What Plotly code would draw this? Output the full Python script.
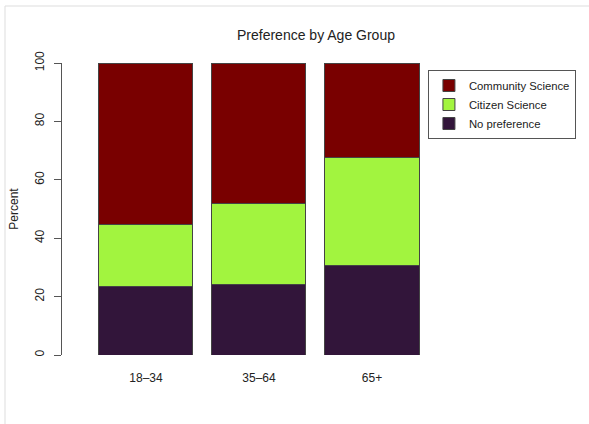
import plotly.graph_objects as go

age_groups = ["18–34", "35–64", "65+"]
no_preference = [23.4, 24.1, 30.7]
citizen_science = [21.2, 27.9, 37.1]
community_science = [55.4, 48.0, 32.2]

series_names = ["No preference", "Citizen Science", "Community Science"]
series_values = [no_preference, citizen_science, community_science]
series_colors = ["#32153A", "#A2F43F", "#790000"]

font_family = "Liberation Sans, Arial, Helvetica, sans-serif"

fig = go.Figure()
for name, vals, col in zip(series_names, series_values, series_colors):
    fig.add_trace(go.Bar(
        x=age_groups, y=vals, name=name,
        marker=dict(color=col, line=dict(color="#444444", width=1)),
    ))

fig.update_layout(
    width=589, height=424,
    barmode="stack", bargap=0.168,
    paper_bgcolor="white", plot_bgcolor="white",
    font=dict(family=font_family, size=12, color="black"),
    margin=dict(l=62, r=157, t=63, b=69, autoexpand=False),
    title=dict(text="Preference by Age Group", x=0.5365, xref="container",
               y=0.917, yref="container", xanchor="center", yanchor="middle",
               font=dict(size=14, color="#222222")),
    legend=dict(x=0.989, y=0.976, xanchor="left", yanchor="top",
                traceorder="reversed", bordercolor="#555555", borderwidth=1,
                font=dict(size=11.3, color="#222222"), itemwidth=30,
                bgcolor="white", tracegroupgap=0),
    xaxis=dict(range=[-0.743, 2.531], showline=False, showgrid=False,
               zeroline=False, ticks="", ticklabelstandoff=14,
               tickfont=dict(size=12, color="#222222")),
    yaxis=dict(range=[0, 100], tickvals=[0, 20, 40, 60, 80, 100],
               showline=True, linecolor="#555555", linewidth=1,
               ticks="outside", ticklen=7, tickcolor="#555555",
               tickangle=-90, showgrid=False, zeroline=False,
               ticklabelstandoff=5,
               tickfont=dict(size=12, color="#222222"),
               title=dict(text="Percent", font=dict(size=12, color="#222222"),
                          standoff=12)),
    shapes=[dict(type="rect", xref="paper", yref="paper",
                 x0=-57/370, x1=600/370, y0=-80/292, y1=349/292,
                 line=dict(color="#DDDDDD", width=1), fillcolor="rgba(0,0,0,0)",
                 layer="below")],
)

fig.write_html("out.html", config={"displayModeBar": False},
               post_script="document.body.style.margin='0';")
